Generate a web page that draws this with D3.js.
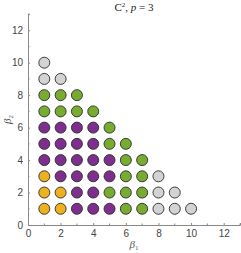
<!DOCTYPE html>
<html>
<head>
<meta charset="utf-8">
<script src="https://cdn.jsdelivr.net/npm/d3@7"></script>
<style>
  body { margin: 0; background: #fff; }
  svg { display: block; }
  .tick text { font-family: "Liberation Sans", Arial, sans-serif; font-size: 10px; fill: #444; }
</style>
</head>
<body>
<div id="chart"></div>
<script>
// beta2 rows (bottom to top) and the class of each beta1 = 1..n in that row
// Y = yellow, P = purple, G = green, L = light grey
var beta2Rows = [1, 2, 3, 4, 5, 6, 7, 8, 9, 10];
var rowClasses = [
  "YYPPPGGLLL",
  "YYPPGGGLL",
  "YPPPPGGL",
  "PPPPPGG",
  "PPPPGG",
  "PPPPG",
  "GGGG",
  "GGG",
  "LL",
  "L"
];
var classNames = ["Y", "P", "G", "L"];
var classColors = ["#EDB120", "#7E2F8E", "#77AC30", "#D3D3D3"];
var xTicks = [0, 2, 4, 6, 8, 10, 12];
var yTicks = [0, 2, 4, 6, 8, 10, 12];
var minorTicks = [1, 3, 5, 7, 9, 11, 13];

var outerWidth = 241,
    outerHeight = 253,
    margin = {top: 14, right: 1, bottom: 28, left: 28},
    width = outerWidth - margin.left - margin.right,
    height = outerHeight - margin.top - margin.bottom;

// flatten rows into points
var points = [];
beta2Rows.forEach(function(b2, r) {
  rowClasses[r].split("").forEach(function(c, i) {
    points.push({b1: i + 1, b2: b2, cls: c});
  });
});

var svg = d3.select("#chart").append("svg")
    .attr("width", outerWidth)
    .attr("height", outerHeight);

var g = svg.append("g")
    .attr("transform", "translate(" + margin.left + "," + margin.top + ")");

var xScale = d3.scaleLinear().domain([0, 13]).range([0, width]);
var yScale = d3.scaleLinear().domain([0, 13]).range([height, 0]);
var color = d3.scaleOrdinal().domain(classNames).range(classColors);

// axes, ticks pointing inwards like matlab
var xAxis = d3.axisBottom(xScale).tickValues(xTicks).tickSize(-2).tickPadding(5);
var yAxis = d3.axisLeft(yScale).tickValues(yTicks).tickSize(-2).tickPadding(5);

var gx = g.append("g")
    .attr("transform", "translate(0," + height + ")")
    .call(xAxis);
var gy = g.append("g").call(yAxis);

[gx, gy].forEach(function(a) {
  a.select(".domain").attr("stroke", "#8a8a8a").attr("stroke-width", 1);
  a.selectAll(".tick line").attr("stroke", "#8a8a8a");
});

// minor ticks
g.selectAll(".xminor").data(minorTicks).enter().append("line")
    .attr("x1", d => xScale(d)).attr("x2", d => xScale(d))
    .attr("y1", height).attr("y2", height - 1.5)
    .attr("stroke", "#8a8a8a");
g.selectAll(".yminor").data(minorTicks).enter().append("line")
    .attr("y1", d => yScale(d)).attr("y2", d => yScale(d))
    .attr("x1", 0).attr("x2", 1.5)
    .attr("stroke", "#8a8a8a");

// the dots
g.selectAll("circle.dot")
    .data(points)
    .enter().append("circle")
    .attr("class", "dot")
    .attr("cx", d => xScale(d.b1))
    .attr("cy", d => yScale(d.b2))
    .attr("r", 5.5)
    .attr("fill", d => color(d.cls))
    .attr("stroke", "#2b2b2b")
    .attr("stroke-width", 0.9);

// title and labels
var serif = "'Liberation Serif', 'DejaVu Serif', serif";

svg.append("text")
    .attr("x", margin.left + width / 2)
    .attr("y", 11)
    .attr("text-anchor", "middle")
    .style("font-family", serif)
    .style("font-size", "11px")
    .attr("fill", "#222")
    .html("C<tspan dy='-4' font-size='7px'>2</tspan><tspan dy='4'>, </tspan><tspan font-style='italic'>p</tspan> = 3");

svg.append("text")
    .attr("x", margin.left + width / 2)
    .attr("y", 248)
    .attr("text-anchor", "middle")
    .style("font-family", serif)
    .style("font-size", "11px")
    .attr("fill", "#555")
    .html("<tspan font-style='italic'>β</tspan><tspan dy='2' font-size='7px'>1</tspan>");

svg.append("text")
    .attr("transform", "translate(11," + (margin.top + yScale(6.5)) + ") rotate(-90)")
    .attr("text-anchor", "middle")
    .style("font-family", serif)
    .style("font-size", "11px")
    .attr("fill", "#555")
    .html("<tspan font-style='italic'>β</tspan><tspan dy='2' font-size='7px'>2</tspan>");
</script>
</body>
</html>
